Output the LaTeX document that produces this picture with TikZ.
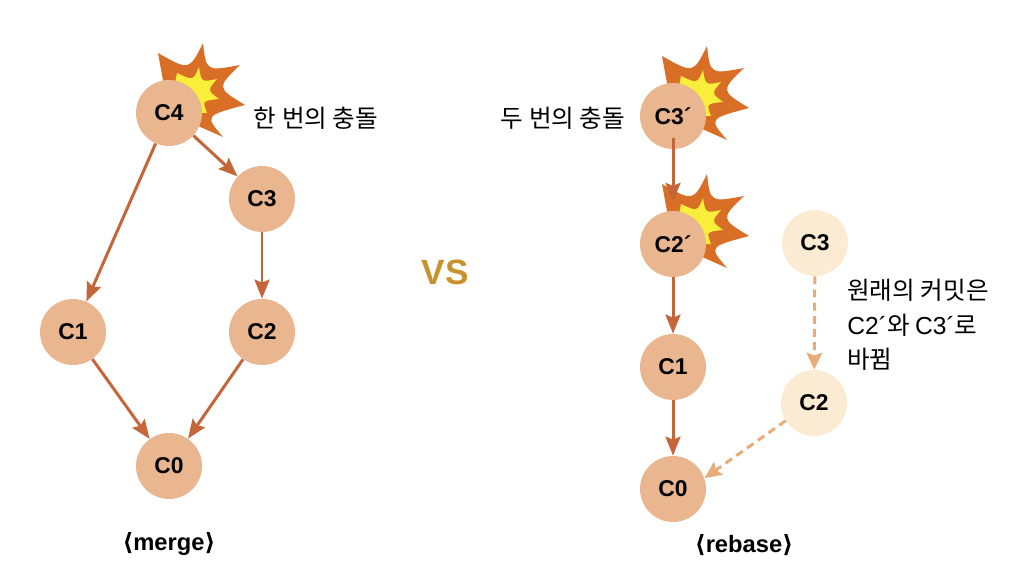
\documentclass[tikz,border=0pt]{standalone}
\usepackage{fontspec}
\setmainfont{Liberation Sans}
\newfontfamily\krfont{Noto Sans CJK KR}
\newfontfamily\symfont{DejaVu Sans}
\usetikzlibrary{arrows.meta}
\definecolor{nodefill}{HTML}{E9B68F}
\definecolor{ghostfill}{HTML}{FBEBD2}
\definecolor{edgecol}{HTML}{C4653A}
\definecolor{ghostedge}{HTML}{E9AC78}
\definecolor{burstout}{HTML}{D96E26}
\definecolor{burstin}{HTML}{F9EE3A}
\definecolor{vscol}{HTML}{C8922E}
\tikzset{commit/.style={circle,fill=nodefill,minimum size=1.32cm,inner sep=0pt,font=\fontsize{13}{13}\selectfont\bfseries},
  ghost/.style={commit,fill=ghostfill},
  arr/.style={-{Stealth[length=3.8mm,width=3mm,inset=0.6mm]},line width=1.7pt,edgecol},
  dasharr/.style={-{Stealth[length=3.4mm,width=3.1mm,inset=0.6mm]},line width=1.7pt,ghostedge,dash pattern=on 4.5pt off 3pt},
  krlabel/.style={font=\krfont\fontsize{14}{19.6}\selectfont,inner sep=0pt,align=left},
  capt/.style={font=\fontsize{13.5}{14}\selectfont\bfseries,inner sep=0pt}}
\newcommand{\burst}[1]{
  \begin{scope}[shift={(#1)}]
  \fill[burstout] (0,0)--(-11,-60) .. controls (20.2,-42.3) .. (34,-70) .. controls (37.2,-41.7) .. (71,-48)
    .. controls (47.5,-25.3) .. (76,-8) .. controls (35.7,2.7) .. (54,24)--cycle;
  \fill[burstin] (0,0)--(8,-40) .. controls (24.3,-32.3) .. (30,-46) .. controls (32.3,-30.7) .. (48,-34)
    .. controls (38.3,-22.7) .. (50,-14) .. controls (33.3,-12.3) .. (38,0)--cycle;
  \end{scope}}

\begin{document}
\begin{tikzpicture}[x=0.02cm,y=-0.02cm]
\useasboundingbox (0,0) rectangle (1026,584);
\burst{169,113}
\burst{673,116}
\burst{673,244}
\node[commit] (c4) at (169,113) {C4};
\node[commit] (c3) at (262,199) {C3};
\node[commit] (c1) at (73,332) {C1};
\node[commit] (c2) at (262,332) {C2};
\node[commit] (c0) at (169,466) {C0};
\node[commit] (c3r) at (673,116) {C3´};
\node[commit] (c2r) at (673,244) {C2´};
\node[commit] (c1r) at (673,367) {C1};
\node[commit] (c0r) at (673,489) {C0};
\node[ghost] (c3o) at (815,243) {C3};
\node[ghost] (c2o) at (814,403) {C2};
\draw[arr] (c4)--(c1);
\draw[arr] (c4)--(c3);
\draw[arr] (c3)--(c2);
\draw[arr] (c1)--(c0);
\draw[arr] (c2)--(c0);
\draw[arr,shorten <=-6.5pt,shorten >=5pt] (c3r)--(c2r);
\draw[arr] (c2r)--(c1r);
\draw[arr] (c1r)--(c0r);
\draw[dasharr] (c3o)--(c2o);
\draw[dasharr] (c2o.212)--(c0r.19);
\node[krlabel] (one) at (316,118) {한 번의 충돌};
\node[krlabel] (two) at (563,118) {두 번의 충돌};
\node[krlabel,anchor=west] (note) at (847,325) {원래의 커밋은\\{\rmfamily C2´}와 {\rmfamily C3´}로\\바뀜};
\node[font=\fontsize{20}{20}\selectfont\bfseries,text=vscol,inner sep=0pt] (vs) at (445,272) {VS};
\node[capt] (merge) at (169,544) {{\symfont ⟨}merge{\symfont ⟩}};
\node[capt] (rebase) at (744,545) {{\symfont ⟨}rebase{\symfont ⟩}};
\end{tikzpicture}
\end{document}
